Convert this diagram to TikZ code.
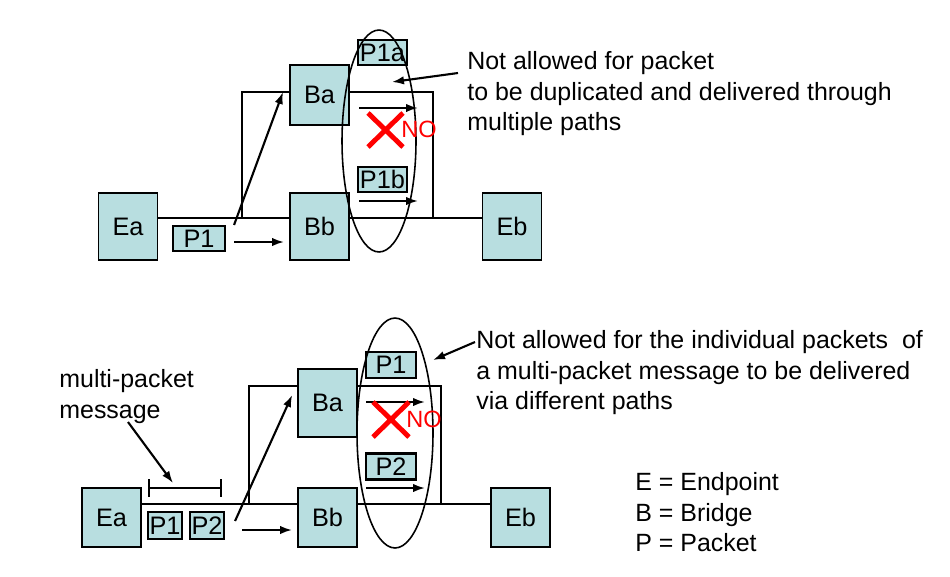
\documentclass[tikz,border=0pt]{standalone}
\usepackage{fontspec}
\setmainfont{Liberation Sans}
\usetikzlibrary{arrows.meta}

\definecolor{boxfill}{RGB}{184,222,224}

\tikzset{
  unit/.style = {draw, fill = boxfill, line width = 1pt, minimum width = 1.18cm,
                 inner sep = 0pt, font = \fontsize{14.4}{17}\selectfont},
  pkt/.style = {draw, fill = boxfill, line width = 1.2pt, inner sep = 0pt,
                minimum height = 0.5cm, font = \fontsize{14.4}{17}\selectfont},
  wire/.style = {line width = 1.1pt},
  mv/.style = {-{Latex[length = 2.4mm, width = 1.7mm]}, line width = 1.2pt},
  note/.style = {anchor = north west, inner sep = 0pt, align = left,
                 font = \fontsize{14.2}{17.4}\selectfont},
  nope/.style = {red, line width = 2.8pt},
  nolabel/.style = {anchor = west, inner sep = 0pt, text = red,
                    font = \fontsize{13.4}{16}\selectfont}
}

\begin{document}
\begin{tikzpicture}[x = 0.02cm, y = -0.02cm]
\useasboundingbox (0,0) rectangle (950,576);

% upper case: one packet, two copies
\node[unit, minimum height = 1.34cm] (EaT) at (128,226.5) {Ea};
\node[unit, minimum height = 1.2cm]  (BaT) at (319.5,95)   {Ba};
\node[unit, minimum height = 1.34cm] (BbT) at (319.5,226.5) {Bb};
\node[unit, minimum height = 1.34cm] (EbT) at (512,226.5)  {Eb};
\node[pkt, minimum width = 1.04cm] (P1T)  at (199,238.5) {P1};
\node[pkt, minimum width = 0.98cm] (P1aT) at (382.5,52.5) {P1a};
\node[pkt, minimum width = 0.98cm] (P1bT) at (382.5,179.5) {P1b};
\coordinate (tlT) at (242,92);
\coordinate (trT) at (433,92);
\coordinate (blT) at (242,218);
\coordinate (brT) at (433,218);
\draw[wire] (EaT.east |- blT) -- (BbT.west |- blT);
\draw[wire] (BbT.east |- brT) -- (EbT.west |- brT);
\draw[wire] (blT) -- (tlT) -- (BaT.west |- tlT);
\draw[wire] (BaT.east |- trT) -- (trT) -- (brT);
\coordinate (upT) at (283,92);
\draw[mv] ([xshift = 0.16cm]P1T.north east) -- (upT);
\draw[mv] ([shift = {(8,3.5)}]P1T.east) -- ++(50,0);
\coordinate (aT1) at (359,108);
\coordinate (aT2) at (418,108);
\coordinate (bT1) at (359,201);
\coordinate (bT2) at (418,201);
\draw[mv] (aT1) -- (aT2);
\draw[mv] (bT1) -- (bT2);
\draw[line width = 0.9pt] (379,141) ellipse [x radius = 0.74cm, y radius = 2.22cm];
\draw[nope] (368,113) -- (403,147) (368,147) -- (403,113);
\node[nolabel] (noT) at (401,129) {NO};
\node[note] (NotT) at (467,51) {Not allowed for packet\\to be duplicated and delivered through\\multiple paths};
\coordinate (tipT) at (392,82);
\draw[mv] ([shift = {(-9,22)}]NotT.north west) -- (tipT);

% lower case: two packets of one message
\node[unit, minimum height = 1.18cm] (EaB) at (111.5,517.5) {Ea};
\node[unit, minimum height = 1.36cm] (BaB) at (327.5,403)   {Ba};
\node[unit, minimum height = 1.18cm] (BbB) at (327.5,517.5) {Bb};
\node[unit, minimum height = 1.18cm] (EbB) at (520.5,517.5) {Eb};
\node[pkt, minimum width = 0.68cm, minimum height = 0.54cm] (P1B) at (165,525.5) {P1};
\node[pkt, minimum width = 0.68cm, minimum height = 0.54cm] (P2B) at (207,525.5) {P2};
\node[pkt, minimum width = 1cm, minimum height = 0.52cm] (P1U) at (391,365)   {P1};
\node[pkt, minimum width = 1cm, minimum height = 0.52cm] (P2U) at (391,466.5) {P2};
\coordinate (tlB) at (249,386);
\coordinate (trB) at (441,386);
\coordinate (blB) at (249,504);
\coordinate (brB) at (441,504);
\draw[wire] (EaB.east |- blB) -- (BbB.west |- blB);
\draw[wire] (BbB.east |- brB) -- (EbB.west |- brB);
\draw[wire] (blB) -- (tlB) -- (BaB.west |- tlB);
\draw[wire] (BaB.east |- trB) -- (trB) -- (brB);
\draw[mv] ([shift = {(10,-4.5)}]P2B.east) -- ([shift = {(-5,-8)}]BaB.west);
\draw[mv] ([shift = {(17,4.5)}]P2B.east) -- ++(50,0);
\coordinate (aB1) at (366,402);
\coordinate (aB2) at (425,402);
\coordinate (bB1) at (366,488);
\coordinate (bB2) at (425,488);
\draw[mv] (aB1) -- (aB2);
\draw[mv] (bB1) -- (bB2);
\draw[line width = 0.9pt] (395,433) ellipse [x radius = 0.76cm, y radius = 2.3cm];
\draw[nope] (373,402) -- (409,437) (373,437) -- (409,402);
\node[nolabel] (noB) at (406,419.5) {NO};
\node[note] (NotB) at (476,330) {Not allowed for the individual packets\ \ of\\a multi-packet message to be delivered\\via different paths};
\coordinate (tipB) at (433,360);
\draw[mv] ([shift = {(-1,12)}]NotB.north west) -- (tipB);

% message span
\node[note] (msg) at (59,369) {multi-packet\\message};
\coordinate (spanL) at (149,488);
\coordinate (spanR) at (221,488);
\draw[wire] ([yshift = 0.18cm]spanL) -- ([yshift = -0.18cm]spanL);
\draw[wire] ([yshift = 0.18cm]spanR) -- ([yshift = -0.18cm]spanR);
\draw[wire] (spanL) -- (spanR);
\coordinate (spanTip) at (173,483);
\draw[mv] ([shift = {(69,53)}]msg.north west) -- (spanTip);

\node[note] (legend) at (635,472) {E = Endpoint\\B = Bridge\\P = Packet};
\end{tikzpicture}
\end{document}
